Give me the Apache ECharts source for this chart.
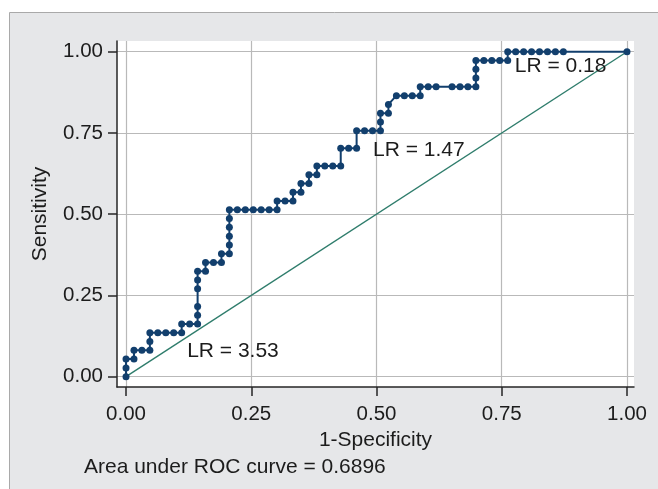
<!DOCTYPE html>
<html>
<head>
<meta charset="utf-8">
<script src="https://cdn.jsdelivr.net/npm/echarts@6/dist/echarts.min.js"></script>
<style>
html,body{margin:0;padding:0;background:#ffffff;}
#chart{width:658px;height:489px;}
</style>
</head>
<body>
<div id="chart"></div>
<script>
// 1-Specificity (x) and Sensitivity (y) of each plotted ROC point
var fpr = [0,0,0,0.0159,0.0159,0.0317,0.0476,0.0476,0.0476,0.0635,0.0794,0.0952,0.1111,0.1111,0.1270,0.1429,0.1429,0.1429,0.1429,0.1429,0.1429,0.1587,0.1587,0.1746,0.1905,0.1905,0.2063,0.2063,0.2063,0.2063,0.2063,0.2063,0.2222,0.2381,0.2540,0.2698,0.2857,0.3016,0.3016,0.3175,0.3333,0.3333,0.3492,0.3492,0.3651,0.3651,0.3810,0.3810,0.3968,0.4127,0.4286,0.4286,0.4444,0.4603,0.4603,0.4762,0.4921,0.5079,0.5079,0.5079,0.5238,0.5238,0.5397,0.5556,0.5714,0.5873,0.5873,0.6032,0.6190,0.6508,0.6667,0.6825,0.6984,0.6984,0.6984,0.6984,0.7143,0.7302,0.7460,0.7619,0.7619,0.7778,0.7937,0.8095,0.8254,0.8413,0.8571,0.8730,1];
var tpr = [0,0.0270,0.0541,0.0541,0.0811,0.0811,0.0811,0.1081,0.1351,0.1351,0.1351,0.1351,0.1351,0.1622,0.1622,0.1622,0.1892,0.2162,0.2703,0.2973,0.3243,0.3243,0.3514,0.3514,0.3514,0.3784,0.3784,0.4054,0.4324,0.4595,0.4865,0.5135,0.5135,0.5135,0.5135,0.5135,0.5135,0.5135,0.5405,0.5405,0.5405,0.5676,0.5676,0.5946,0.5946,0.6216,0.6216,0.6486,0.6486,0.6486,0.6486,0.7027,0.7027,0.7027,0.7568,0.7568,0.7568,0.7568,0.7838,0.8108,0.8108,0.8378,0.8649,0.8649,0.8649,0.8649,0.8919,0.8919,0.8919,0.8919,0.8919,0.8919,0.8919,0.9189,0.9459,0.9730,0.9730,0.9730,0.9730,0.9730,1,1,1,1,1,1,1,1,1];
// reference (chance) line
var refX = [0, 1];
var refY = [0, 1];
// tick values
var ticks = [0, 0.25, 0.5, 0.75, 1];
// LR annotations: text and the data point where each text starts
var lrText = ['LR = 3.53', 'LR = 1.47', 'LR = 0.18'];
var lrX = [0.122, 0.493, 0.776];
var lrY = [0.079, 0.6975, 0.954];
var aucText = 'Area under ROC curve = 0.6896';
var xTitle = '1-Specificity';
var yTitle = 'Sensitivity';

var FONT = '"Liberation Sans", Arial, Helvetica, sans-serif';
var TXT = '#1c1c1c';

var rocData = fpr.map(function (v, i) { return [v, tpr[i]]; });
var refData = refX.map(function (v, i) { return [v, refY[i]]; });
var lrData = lrText.map(function (t, i) { return { name: t, value: [lrX[i], lrY[i]] }; });

var chart = echarts.init(document.getElementById('chart'), null, { renderer: 'canvas' });

function axisCommon(name, gap) {
  return {
    type: 'value',
    name: name,
    nameLocation: 'middle',
    nameGap: gap,
    nameTextStyle: { fontFamily: FONT, fontSize: 21, color: TXT },
    axisLine: { show: true, onZero: false, lineStyle: { color: '#262626', width: 1.5 } },
    axisTick: { show: true, customValues: ticks, length: 9, lineStyle: { color: '#262626', width: 1.5 } },
    axisLabel: {
      customValues: ticks,
      fontFamily: FONT, fontSize: 20.5, color: TXT,
      formatter: function (v) { return v.toFixed(2); }
    },
    splitLine: { show: true, lineStyle: { color: '#b9b9b9', width: 1.2 } }
  };
}

var xAxis = axisCommon(xTitle, 42);
xAxis.min = -0.018; xAxis.max = 1.014;
xAxis.axisLabel.margin = 17;
var yAxis = axisCommon(yTitle, 66);
yAxis.min = -0.0317; yAxis.max = 1.033;
yAxis.axisLabel.margin = 14;

var option = {
  animation: false,
  backgroundColor: '#ffffff',
  graphic: [
    {
      type: 'rect', z: -10, silent: true,
      shape: { x: 9.5, y: 12.5, width: 700, height: 500 },
      style: { fill: '#e6e7e9', stroke: '#a9a9a9', lineWidth: 1 }
    },
    {
      type: 'text', left: 84, top: 457, silent: true,
      style: { text: aucText, font: '21px ' + FONT, fill: TXT }
    }
  ],
  grid: {
    left: 117, top: 41, width: 517, height: 346,
    show: true, backgroundColor: '#ffffff', borderWidth: 0
  },
  xAxis: xAxis,
  yAxis: yAxis,
  series: [
    {
      type: 'line', data: refData, symbol: 'none', z: 2,
      lineStyle: { color: '#2f7d6c', width: 1.4 }
    },
    {
      type: 'line', data: rocData, z: 3,
      symbol: 'circle', symbolSize: 7, showAllSymbol: true,
      itemStyle: { color: '#123f6d' },
      lineStyle: { color: '#123f6d', width: 2 }
    },
    {
      type: 'scatter', data: lrData, symbolSize: 0, z: 4,
      itemStyle: { opacity: 1 },
      label: {
        show: true, position: [0, 0], align: 'left', verticalAlign: 'middle',
        formatter: function (p) { return p.name; },
        fontFamily: FONT, fontSize: 21, color: TXT, opacity: 1
      }
    }
  ]
};
chart.setOption(option);
</script>
</body>
</html>
